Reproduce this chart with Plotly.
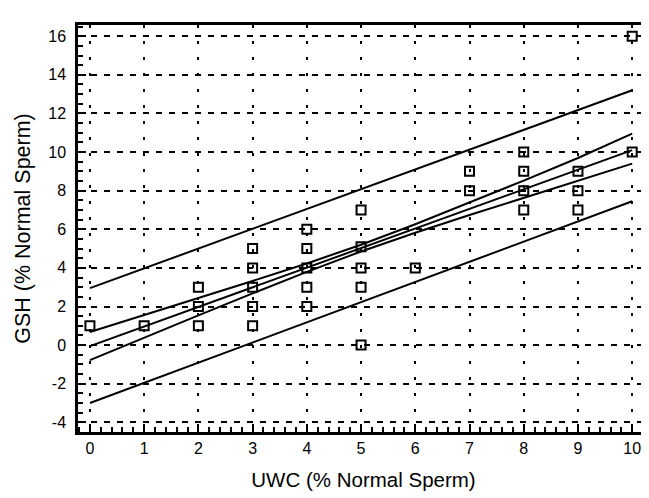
import plotly.graph_objects as go

# Observed data points (UWC vs GSH, % normal sperm)
uwc = [0, 1, 2, 2, 2, 3, 3, 3, 3, 3, 4, 4, 4, 4, 4, 5, 5, 5, 5, 5, 6, 7, 7, 8, 8, 8, 8, 9, 9, 9, 10, 10]
gsh = [1, 1, 3, 2, 1, 5, 4, 3, 2, 1, 6, 5, 4, 3, 2, 7, 5.1, 4, 3, 0, 4, 9, 8, 10, 9, 8, 7, 9, 8, 7, 16, 10]

# Regression line and bands
fit_x = [0, 10]
fit_y = [-0.05, 10.1]
band_x = [0, 1, 2, 3, 4, 5, 6, 7, 8, 9, 10]
upper_ci = [0.68, 1.55, 2.42, 3.32, 4.23, 5.2, 6.26, 7.38, 8.52, 9.69, 10.95]
lower_ci = [-0.78, 0.39, 1.54, 2.68, 3.79, 4.85, 5.82, 6.74, 7.62, 8.49, 9.4]
pi_x = [0, 10]
upper_pi = [2.95, 13.2]
lower_pi = [-3.0, 7.45]

x_ticks = [0, 1, 2, 3, 4, 5, 6, 7, 8, 9, 10]
y_ticks = [-4, -2, 0, 2, 4, 6, 8, 10, 12, 14, 16]

line_style = dict(color="black", width=2)
fig = go.Figure()
fig.add_trace(go.Scatter(x=pi_x, y=upper_pi, mode="lines", line=line_style))
fig.add_trace(go.Scatter(x=band_x, y=upper_ci, mode="lines", line=line_style))
fig.add_trace(go.Scatter(x=fit_x, y=fit_y, mode="lines", line=line_style))
fig.add_trace(go.Scatter(x=band_x, y=lower_ci, mode="lines", line=line_style))
fig.add_trace(go.Scatter(x=pi_x, y=lower_pi, mode="lines", line=line_style))
fig.add_trace(go.Scatter(
    x=uwc, y=gsh, mode="markers",
    marker=dict(symbol="square-open", size=9, color="black", line=dict(width=2, color="black")),
))

font = "Liberation Sans, Arial, sans-serif"
fig.update_layout(
    width=649, height=498,
    margin=dict(l=70, r=5, t=17, b=74),
    paper_bgcolor="white", plot_bgcolor="white",
    showlegend=False,
    font=dict(family=font, color="black", size=16),
    xaxis=dict(
        range=[-0.22, 10.31], tickvals=x_ticks, ticktext=[str(v) for v in x_ticks],
        ticks="inside", ticklen=8, tickwidth=2, tickcolor="black",
        showline=True, linewidth=2.5, linecolor="black", mirror=True,
        showgrid=True, gridcolor="black", gridwidth=2, griddash="3px,13px",
        zeroline=False, ticklabelstandoff=0,
        minor=dict(dtick=0.2, ticks="inside", ticklen=5, tickwidth=1.5, tickcolor="black", showgrid=False),
        title=dict(text="UWC (% Normal Sperm)", font=dict(size=20.5), standoff=17),
        tickfont=dict(size=16),
    ),
    yaxis=dict(
        range=[-4.5, 16.58], tickvals=y_ticks, ticktext=[str(v) for v in y_ticks],
        ticks="inside", ticklen=8, tickwidth=2, tickcolor="black",
        showline=True, linewidth=2.5, linecolor="black", mirror=True,
        showgrid=True, gridcolor="black", gridwidth=2, griddash="6px,7px",
        zeroline=False, ticklabelstandoff=6,
        minor=dict(dtick=0.5, ticks="inside", ticklen=5, tickwidth=1.5, tickcolor="black", showgrid=False),
        title=dict(text="GSH (% Normal Sperm)", font=dict(size=21.5), standoff=12),
        tickfont=dict(size=16),
    ),
)
fig.write_html("out.html")
